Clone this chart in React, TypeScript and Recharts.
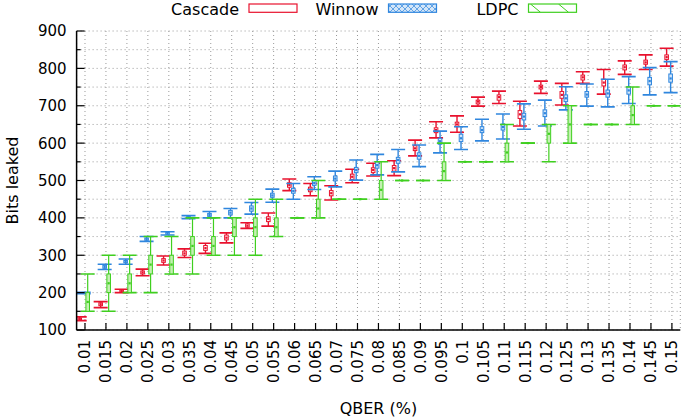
import React from 'react';
import { ComposedChart, Bar, XAxis, YAxis, CartesianGrid } from 'recharts';

const qberLabels = ["0.01","0.015","0.02","0.025","0.03","0.035","0.04","0.045","0.05","0.055","0.06","0.065","0.07","0.075","0.08","0.085","0.09","0.095","0.1","0.105","0.11","0.115","0.12","0.125","0.13","0.135","0.14","0.145","0.15"];
const yTicks = [100,150,200,250,300,350,400,450,500,550,600,650,700,750,800,850,900];
const xTicks = [0,1,2,3,4,5,6,7,8,9,10,11,12,13,14,15,16,17,18,19,20,21,22,23,24,25,26,27,28];

const cascadeMin  = [125,160,200,245,274,294,305,333,372,378,473,459,448,494,512,513,566,614,629,699,706,646,733,702,760,731,784,797,806];
const cascadeQ1   = [127,165,202,250,281,300,313,341,375,390,482,470,459,503,521,525,580,628,644,705,715,666,745,720,769,753,796,811,824];
const cascadeMean = [129,169,204,254,286,305,319,347,379,397,488,476,466,510,528,533,586,635,650,711,723,677,750,729,776,762,803,816,830];
const cascadeQ3   = [132,173,207,258,291,311,326,354,384,403,494,482,473,517,534,540,593,641,656,715,729,687,755,738,782,771,809,822,836];
const cascadeMax  = [135,176,209,263,298,317,332,360,387,413,504,492,486,530,546,553,608,657,673,723,739,712,766,760,791,797,820,836,854];

const winnowMin  = [197,262,276,337,354,398,400,400,410,442,450,476,483,501,515,523,537,574,583,606,611,637,646,689,699,697,706,729,735];
const winnowQ1   = [198,265,280,340,356,400,404,408,418,455,466,487,499,521,533,546,557,597,604,628,635,662,671,711,723,723,731,756,763];
const winnowMean = [199,269,283,343,359,402,408,414,425,460,472,493,505,528,541,555,566,605,613,635,643,671,680,720,730,733,741,766,773];
const winnowQ3   = [200,273,286,346,361,404,412,420,432,466,479,500,512,535,550,562,574,613,624,644,651,680,689,729,738,742,751,776,785];
const winnowMax  = [201,276,290,350,363,406,417,425,441,477,492,510,525,555,570,583,595,632,644,664,678,705,715,751,758,771,778,802,818];

const ldpcMin  = [150,150,200,200,250,250,300,300,300,350,400,400,450,450,450,500,500,500,550,550,550,600,550,600,650,650,650,700,700];
const ldpcQ1   = [150,200,200,250,250,300,300,350,350,350,400,400,450,450,450,500,500,500,550,550,550,600,600,600,650,650,650,700,700];
const ldpcMean = [175,225,225,275,275,325,325,375,375,375,400,425,450,450,475,500,500,525,550,550,575,600,625,650,650,650,675,700,700];
const ldpcQ3   = [200,250,250,300,300,350,350,400,400,400,400,450,450,450,500,500,500,550,550,550,600,600,650,700,650,650,700,700,700];
const ldpcMax  = [250,300,300,350,350,400,400,400,450,450,400,500,450,450,550,500,500,600,550,550,650,600,650,700,650,650,750,700,700];

const RED = '#e8112d';
const BLUE = '#2f86de';
const GREEN = '#3fcf1f';
const FONT = 'DejaVu Sans, sans-serif';
const TICK_MARGIN = 10;

const rows = qberLabels.map((label, i) => ({
  idx: i,
  label,
  cMin: cascadeMin[i], cQ1: cascadeQ1[i], cMean: cascadeMean[i], cQ3: cascadeQ3[i], cMax: cascadeMax[i],
  wMin: winnowMin[i], wQ1: winnowQ1[i], wMean: winnowMean[i], wQ3: winnowQ3[i], wMax: winnowMax[i],
  lMin: ldpcMin[i], lQ1: ldpcQ1[i], lMean: ldpcMean[i], lQ3: ldpcQ3[i], lMax: ldpcMax[i],
}));

const rangeOf = (lo: number, hi: number): [number, number] => (lo === hi ? [lo - 0.5, hi + 0.5] : [lo, hi]);

const makeShape = (prefix: string, color: string, boxFill: string, shift: number, lw: number) => (props: any) => {
  const { x, y, width, height, payload } = props;
  if (payload == null || x == null) return null;
  const vMin = payload[prefix + 'Min'];
  const vMax = payload[prefix + 'Max'];
  const [a, b] = rangeOf(vMin, vMax);
  const py = (v: number) => y + (height * (b - v)) / (b - a);
  const cx = x + width / 2 + shift;
  const capW = 14;
  const boxW = 3.6;
  const yMax = py(vMax);
  const yMin = py(vMin);
  const yQ3 = py(payload[prefix + 'Q3']);
  const yQ1 = py(payload[prefix + 'Q1']);
  const yMean = py(payload[prefix + 'Mean']);
  return (
    <g>
      <line x1={cx} x2={cx} y1={yMax} y2={yMin} stroke={color} strokeWidth={lw} />
      <line x1={cx - capW / 2} x2={cx + capW / 2} y1={yMax} y2={yMax} stroke={color} strokeWidth={1.6} />
      <line x1={cx - capW / 2} x2={cx + capW / 2} y1={yMin} y2={yMin} stroke={color} strokeWidth={1.6} />
      <rect x={cx - boxW / 2} y={yQ3} width={boxW} height={Math.max(0.01, yQ1 - yQ3)} fill={boxFill} stroke={color} strokeWidth={1} />
      <rect x={cx - 1.1} y={yMean - 1.1} width={2.2} height={2.2} fill={color} />
    </g>
  );
};

const YTick = (props: any) => {
  const { x, y, payload } = props;
  const v = payload.value;
  const major = v % 100 === 0;
  const ax = x + TICK_MARGIN;
  return (
    <g>
      <line x1={ax} x2={ax + (major ? 8 : 4)} y1={y} y2={y} stroke="#000" strokeWidth={1.2} />
      {major && (
        <text x={x} y={y} dy="0.36em" textAnchor="end" fontFamily={FONT} fontSize={15} fill="#000">
          {v}
        </text>
      )}
    </g>
  );
};

const XTick = (props: any) => {
  const { x, y, payload } = props;
  const ay = y - TICK_MARGIN;
  return (
    <g>
      <line x1={x} x2={x} y1={ay} y2={ay - 7} stroke="#000" strokeWidth={1.2} />
      <text x={x} y={y} dy="0.36em" textAnchor="end" fontFamily={FONT} fontSize={15} fill="#000" transform={`rotate(-90, ${x}, ${y})`}>
        {qberLabels[payload.value]}
      </text>
    </g>
  );
};

const YLabel = (props: any) => {
  const vb = props.viewBox || {};
  const lx = (vb.x || 0) + 12;
  const ly = (vb.y || 0) + (vb.height || 0) / 2;
  return (
    <text x={lx} y={ly} dy="0.36em" textAnchor="middle" fontFamily={FONT} fontSize={16} fill="#000" transform={`rotate(-90, ${lx}, ${ly})`}>
      Bits leaked
    </text>
  );
};

const legendItems = [
  { name: 'Cascade', color: RED, textEnd: 239, swatchX: 249, kind: 'empty' },
  { name: 'Winnow', color: BLUE, textEnd: 378.5, swatchX: 388.5, kind: 'cross' },
  { name: 'LDPC', color: GREEN, textEnd: 518.5, swatchX: 528.5, kind: 'diag' },
];

const Legend = () => (
  <svg width={685} height={30} style={{ position: 'absolute', left: 0, top: 0 }}>
    <defs>
      <pattern id="crossHatch" width="6" height="6" patternUnits="userSpaceOnUse">
        <rect width="6" height="6" fill="#d4e6f8" />
        <path d="M0,0 L6,6 M6,0 L0,6" stroke={BLUE} strokeWidth={0.7} />
      </pattern>
      <clipPath id="ldpcClip">
        <rect x={528.5} y={4} width={48} height={8.3} />
      </clipPath>
    </defs>
    {legendItems.map((it) => (
      <g key={it.name}>
        <text x={it.textEnd} y={15} textAnchor="end" fontFamily={FONT} fontSize={16} fill="#000">{it.name}</text>
        <rect
          x={it.swatchX}
          y={4}
          width={48}
          height={8.3}
          fill={it.kind === 'cross' ? 'url(#crossHatch)' : '#fff'}
          stroke={it.color}
          strokeWidth={1.2}
        />
        {it.kind === 'diag' && (
          <g clipPath="url(#ldpcClip)">
            <line x1={it.swatchX + 2} y1={4} x2={it.swatchX + 12} y2={12.3} stroke={it.color} strokeWidth={1} />
            <line x1={it.swatchX + 30} y1={4} x2={it.swatchX + 40} y2={12.3} stroke={it.color} strokeWidth={1} />
          </g>
        )}
      </g>
    ))}
  </svg>
);

export default function App() {
  return (
    <div style={{ position: 'absolute', left: 0, top: 0, width: 685, height: 417, background: '#fff' }}>
      <ComposedChart
        width={685}
        height={417}
        data={rows}
        margin={{ top: 31, right: 4.7, bottom: 0, left: 0 }}
        barGap={0}
      >
        <CartesianGrid stroke="#9a9a9a" strokeDasharray="1 3" strokeWidth={1} />
        <XAxis
          dataKey="idx"
          type="number"
          domain={[-0.4, 28.4]}
          ticks={xTicks}
          interval={0}
          allowDataOverflow
          height={87}
          tickSize={0}
          tickMargin={TICK_MARGIN}
          tickLine={false}
          axisLine={{ stroke: '#000', strokeWidth: 1.5 }}
          tick={<XTick />}
          label={{ value: 'QBER (%)', position: 'insideBottom', offset: 3, fontFamily: FONT, fontSize: 16, fill: '#000' }}
        />
        <YAxis
          type="number"
          domain={[100, 900]}
          ticks={yTicks}
          interval={0}
          allowDataOverflow
          width={76.6}
          tickSize={0}
          tickMargin={TICK_MARGIN}
          tickLine={false}
          axisLine={{ stroke: '#000', strokeWidth: 1.5 }}
          tick={<YTick />}
          label={<YLabel />}
        />
        <Bar dataKey={(d: any) => rangeOf(d.cMin, d.cMax)} barSize={4} isAnimationActive={false} shape={makeShape('c', RED, '#ffffff', -0.8, 1.4)} />
        <Bar dataKey={(d: any) => rangeOf(d.wMin, d.wMax)} barSize={4} isAnimationActive={false} shape={makeShape('w', BLUE, '#d4e6f8', -0.8, 1.4)} />
        <Bar dataKey={(d: any) => rangeOf(d.lMin, d.lMax)} barSize={4} isAnimationActive={false} shape={makeShape('l', GREEN, '#c4f0b2', -0.8, 1.2)} />
      </ComposedChart>
      <Legend />
    </div>
  );
}
